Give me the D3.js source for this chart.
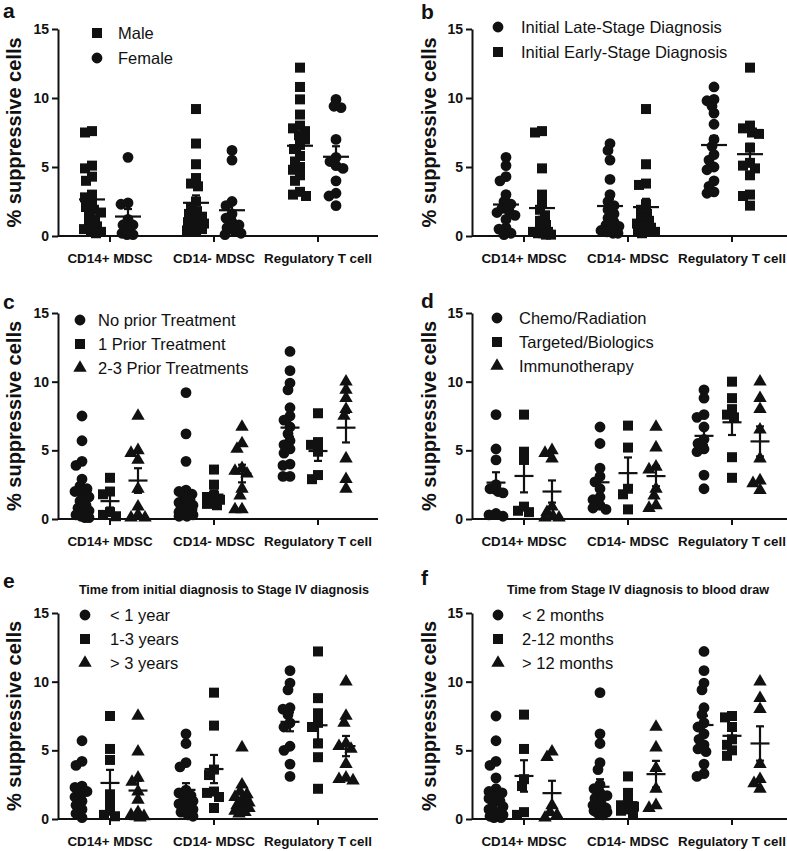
<!DOCTYPE html>
<html>
<head>
<meta charset="utf-8">
<script src="https://cdn.jsdelivr.net/npm/d3@7"></script>
<style>
  body { margin: 0; background: #fff; }
  svg { display: block; font-family: "Liberation Sans", Arial, sans-serif; }
</style>
</head>
<body>
<div id="chart"></div>
<script>
// categories and axis ticks
var categories = ["CD14+ MDSC", "CD14- MDSC", "Regulatory T cell"];
var yTicks = [0, 5, 10, 15];

// each series: values for [CD14+ MDSC, CD14- MDSC, Regulatory T cell]
// panel a
var male = [
  [7.6, 7.5, 5.1, 4.9, 4.3, 4.0, 3.0, 2.8, 2.4, 2.1, 1.9, 1.7, 1.5, 1.2, 0.9, 0.7, 0.5, 0.4, 0.3, 0.2],
  [9.2, 6.7, 5.2, 4.2, 3.8, 3.6, 2.5, 2.1, 1.8, 1.6, 1.4, 1.2, 1.0, 0.9, 0.8, 0.6, 0.5, 0.4, 0.3, 0.3],
  [12.2, 10.8, 9.9, 8.8, 8.0, 7.8, 7.6, 7.3, 7.0, 6.6, 6.3, 5.8, 5.4, 5.0, 4.8, 4.4, 4.0, 3.2, 3.0, 2.9]
];
var female = [
  [5.7, 2.4, 2.3, 1.2, 0.8, 0.8, 0.5, 0.2, 0.1, 0.1],
  [6.2, 5.5, 2.5, 2.2, 1.6, 1.3, 1.0, 0.8, 0.6, 0.4, 0.2, 0.1],
  [9.9, 9.4, 9.3, 7.0, 5.7, 5.4, 5.1, 4.9, 4.0, 3.1, 2.9, 2.2]
];
// panel b
var lateStage = [
  [5.7, 5.1, 4.3, 4.0, 3.0, 2.5, 2.3, 2.0, 1.8, 1.7, 1.5, 1.2, 0.6, 0.5, 0.2, 0.1],
  [6.7, 6.2, 5.5, 4.1, 3.0, 2.5, 2.2, 1.9, 1.6, 1.3, 1.0, 0.8, 0.7, 0.5, 0.4, 0.3, 0.2, 0.2],
  [10.8, 9.9, 9.8, 9.4, 8.9, 8.1, 7.0, 6.5, 5.9, 5.5, 5.0, 4.8, 4.0, 3.6, 3.2, 3.1]
];
var earlyStage = [
  [7.6, 7.5, 4.9, 3.0, 2.4, 1.9, 1.5, 1.1, 0.8, 0.5, 0.3, 0.3, 0.2, 0.2, 0.1, 0.1],
  [9.2, 5.2, 3.8, 3.7, 2.3, 1.9, 1.6, 1.3, 1.1, 0.9, 0.7, 0.6, 0.4, 0.3, 0.3, 0.2],
  [12.2, 8.0, 7.8, 7.5, 7.4, 6.4, 5.3, 5.1, 4.9, 4.4, 3.0, 2.9, 2.2]
];
// panel c
var noPrior = [
  [7.5, 5.7, 4.2, 3.9, 2.9, 2.4, 2.2, 2.0, 1.8, 1.6, 1.3, 1.0, 0.8, 0.6, 0.5, 0.3, 0.3, 0.2, 0.1, 0.1],
  [9.2, 6.2, 4.2, 2.1, 2.0, 1.8, 1.6, 1.4, 1.2, 1.1, 1.0, 0.9, 0.8, 0.7, 0.6, 0.5, 0.4, 0.3, 0.3, 0.2, 0.2],
  [12.2, 10.8, 9.9, 9.4, 8.1, 7.5, 7.2, 6.7, 6.2, 5.7, 5.4, 5.1, 4.8, 4.0, 3.9, 3.1, 3.1]
];
var onePrior = [
  [3.0, 2.0, 1.8, 0.5, 0.3, 0.2],
  [3.6, 2.5, 1.7, 1.6, 1.4, 1.3, 1.1, 1.0],
  [7.7, 5.6, 5.4, 4.9, 3.2, 2.9]
];
var twoThreePrior = [
  [7.5, 5.0, 4.8, 4.3, 2.2, 0.9, 0.3, 0.1, 0.1],
  [6.7, 5.5, 5.1, 3.7, 3.5, 3.3, 2.2, 1.7, 0.7, 0.7],
  [10.0, 9.4, 8.8, 8.0, 7.5, 4.4, 2.9, 2.2]
];
// panel d
var chemo = [
  [7.6, 5.1, 4.3, 2.5, 2.2, 2.0, 1.9, 0.4, 0.3, 0.2],
  [6.7, 5.5, 3.7, 3.1, 2.7, 2.2, 1.6, 1.4, 1.0, 0.8, 0.7],
  [9.4, 8.8, 7.6, 7.4, 6.7, 5.8, 5.5, 5.1, 4.9, 3.2, 2.2]
];
var targeted = [
  [7.6, 4.9, 4.3, 0.9, 0.6, 0.5],
  [6.8, 5.2, 2.2, 1.8, 0.7],
  [10.0, 8.8, 8.0, 7.6, 7.4, 4.5, 3.0]
];
var immuno = [
  [5.0, 4.8, 4.4, 0.9, 0.5, 0.2, 0.1, 0.1],
  [6.7, 5.2, 3.8, 3.6, 2.2, 1.7, 1.0, 0.8],
  [10.0, 8.8, 8.0, 6.5, 4.4, 2.8, 2.6, 2.1]
];
// panel e
var underOneYear = [
  [5.7, 4.2, 3.9, 2.4, 2.3, 2.0, 1.9, 1.6, 1.3, 1.0, 0.7, 0.4, 0.1],
  [6.2, 5.5, 4.1, 3.8, 2.1, 1.9, 1.7, 1.5, 1.3, 1.1, 0.9, 0.7, 0.5, 0.3, 0.2],
  [10.8, 9.9, 9.4, 8.1, 8.0, 7.6, 7.0, 6.7, 5.3, 5.0, 4.0, 3.1]
];
var oneToThreeYears = [
  [7.5, 5.1, 4.3, 1.8, 1.2, 0.6, 0.3, 0.2],
  [9.2, 6.8, 3.6, 3.2, 2.0, 1.9, 1.6, 0.8],
  [12.2, 8.8, 7.7, 7.0, 6.7, 5.5, 4.5, 2.2]
];
var overThreeYears = [
  [7.5, 4.9, 3.0, 2.7, 2.0, 1.4, 0.5, 0.3, 0.2, 0.2, 0.1],
  [5.2, 2.5, 2.0, 1.8, 1.6, 1.4, 1.2, 1.0, 0.9, 0.8, 0.7, 0.6, 0.5, 0.4],
  [10.0, 7.5, 7.0, 5.5, 5.3, 5.1, 4.0, 3.0, 2.9, 2.8]
];
// panel f
var underTwoMonths = [
  [7.5, 5.7, 4.2, 3.9, 3.0, 2.2, 2.0, 1.9, 1.7, 1.5, 1.3, 1.1, 0.9, 0.7, 0.5, 0.3, 0.2, 0.2, 0.1, 0.1],
  [9.2, 6.2, 5.5, 4.1, 3.6, 2.5, 2.2, 1.9, 1.7, 1.5, 1.2, 1.0, 0.8, 0.8, 0.6, 0.6, 0.5, 0.4, 0.3],
  [12.2, 10.8, 9.9, 9.4, 8.1, 7.6, 7.0, 6.7, 6.2, 5.8, 5.4, 5.1, 4.9, 4.0, 3.3, 3.1]
];
var twoToTwelveMonths = [
  [7.6, 5.1, 2.9, 2.4, 0.5, 0.3],
  [3.1, 1.9, 1.2, 1.0, 0.9, 0.7, 0.6, 0.4],
  [7.5, 7.4, 6.7, 5.8, 5.4, 5.0, 4.6]
];
var overTwelveMonths = [
  [4.9, 4.5, 1.0, 0.5, 0.3, 0.1],
  [6.7, 5.2, 3.7, 2.2, 1.0, 0.8],
  [10.0, 8.8, 8.0, 4.0, 2.9, 2.6, 2.2]
];

// layout
var colX = [58, 472];          // y-axis position per column
var letterX = [3, 421];
var titleX = [20.5, 435.5];
var rowTop = [29, 313, 613];   // y of 15
var rowBottom = [236, 519, 819]; // y of 0
var axisLen = 320;

var panels = [
  { letter: "a", col: 0, row: 0, letterY: 18,
    legend: { x: 97, y: 33, dy: 25, tx: 118 },
    series: [{ name: "Male", shape: "square", values: male },
             { name: "Female", shape: "circle", values: female }] },
  { letter: "b", col: 1, row: 0, letterY: 19,
    legend: { x: 498, y: 27, dy: 25, tx: 521 },
    series: [{ name: "Initial Late-Stage Diagnosis", shape: "circle", values: lateStage },
             { name: "Initial Early-Stage Diagnosis", shape: "square", values: earlyStage }] },
  { letter: "c", col: 0, row: 1, letterY: 309,
    legend: { x: 80, y: 320, dy: 24, tx: 98 },
    series: [{ name: "No prior Treatment", shape: "circle", values: noPrior },
             { name: "1 Prior Treatment", shape: "square", values: onePrior },
             { name: "2-3 Prior Treatments", shape: "triangle", values: twoThreePrior }] },
  { letter: "d", col: 1, row: 1, letterY: 308,
    legend: { x: 497, y: 318, dy: 24, tx: 519 },
    series: [{ name: "Chemo/Radiation", shape: "circle", values: chemo },
             { name: "Targeted/Biologics", shape: "square", values: targeted },
             { name: "Immunotherapy", shape: "triangle", values: immuno }] },
  { letter: "e", col: 0, row: 2, letterY: 588,
    title: "Time from initial diagnosis to Stage IV diagnosis",
    legend: { x: 85, y: 615, dy: 24, tx: 110 },
    series: [{ name: "< 1 year", shape: "circle", values: underOneYear },
             { name: "1-3 years", shape: "square", values: oneToThreeYears },
             { name: "> 3 years", shape: "triangle", values: overThreeYears }] },
  { letter: "f", col: 1, row: 2, letterY: 585,
    title: "Time from Stage IV diagnosis to blood draw",
    legend: { x: 498, y: 615, dy: 24, tx: 522 },
    series: [{ name: "< 2 months", shape: "circle", values: underTwoMonths },
             { name: "2-12 months", shape: "square", values: twoToTwelveMonths },
             { name: "> 12 months", shape: "triangle", values: overTwelveMonths }] }
];

var ink = "#111";
var shapes = {
  square: d3.symbol().type(d3.symbolSquare).size(100)(),
  circle: d3.symbol().type(d3.symbolCircle).size(92)(),
  triangle: d3.symbol().type(d3.symbolTriangle).size(78)()
};

var svg = d3.select("#chart").append("svg")
  .attr("width", 787)
  .attr("height", 851);

// spread overlapping points a little sideways, within maxOff of the centre
function swarm(values, cx, y, maxOff) {
  var placed = [];
  var minDist = 7;
  values.slice().sort(d3.descending).forEach(function (v) {
    var py = y(v);
    var best = cx, bestD = -1;
    for (var k = 0; k <= 2 * maxOff; k++) {
      var off = k === 0 ? 0 : (k % 2 ? -1 : 1) * Math.ceil(k / 2);
      var px = cx + off;
      var dmin = placed.length ? d3.min(placed, function (q) {
        return Math.hypot(q.x - px, q.y - py);
      }) : Infinity;
      if (dmin >= minDist) { best = px; break; }
      if (dmin > bestD) { bestD = dmin; best = px; }
    }
    placed.push({ x: best, y: py });
  });
  return placed;
}

panels.forEach(function (p) {
  var axisX = colX[p.col];
  var y = d3.scaleLinear().domain([0, 15]).range([rowBottom[p.row], rowTop[p.row]]);
  var x = d3.scaleBand().domain(categories).range([axisX, axisX + 312]);
  var n = p.series.length;
  var offsets = n === 2 ? [-18, 18] : [-28, 0, 28];
  var meanHalf = n === 2 ? 13 : 9.5;
  var maxOff = n === 2 ? 9 : 7;
  var g = svg.append("g");

  // y axis
  var ya = g.append("g")
    .attr("transform", "translate(" + axisX + ",0)")
    .call(d3.axisLeft(y).tickValues(yTicks).tickSize(6).tickSizeOuter(0).tickPadding(3));
  ya.selectAll("text")
    .style("font-size", "14px").style("font-weight", "bold").attr("fill", ink);

  // x axis
  var xa = g.append("g")
    .attr("transform", "translate(0," + y(0) + ")")
    .call(d3.axisBottom(x).tickSize(6).tickSizeOuter(0).tickPadding(11));
  xa.select(".domain").attr("d", "M" + axisX + ",0H" + (axisX + axisLen));
  xa.selectAll("text")
    .style("font-size", "13.4px").style("font-weight", "bold").attr("fill", ink);

  g.selectAll(".domain, .tick line").attr("stroke", ink).attr("stroke-width", 2);

  // y title
  g.append("text")
    .attr("transform", "translate(" + titleX[p.col] + "," + (y(0) + y(15)) / 2 + ") rotate(-90)")
    .attr("text-anchor", "middle")
    .style("font-size", "20px").style("font-weight", "bold")
    .attr("fill", ink)
    .text("% suppressive cells");

  // panel letter
  g.append("text")
    .attr("x", letterX[p.col]).attr("y", p.letterY)
    .style("font-size", "21px").style("font-weight", "bold")
    .attr("fill", ink)
    .text(p.letter);

  if (p.title) {
    g.append("text")
      .attr("x", axisX + 166).attr("y", rowTop[p.row] - 19)
      .attr("text-anchor", "middle")
      .style("font-size", "12.6px").style("font-weight", "bold")
      .attr("fill", ink)
      .text(p.title);
  }

  // legend
  p.series.forEach(function (s, i) {
    var ly = p.legend.y + i * p.legend.dy;
    g.append("path")
      .attr("d", shapes[s.shape])
      .attr("transform", "translate(" + p.legend.x + "," + ly + ")")
      .attr("fill", ink);
    g.append("text")
      .attr("x", p.legend.tx).attr("y", ly + 6)
      .style("font-size", "16.5px")
      .attr("fill", ink)
      .text(s.name);
  });

  // points and mean +/- SEM
  p.series.forEach(function (s, i) {
    categories.forEach(function (c, ci) {
      var vals = s.values[ci];
      var cx = x(c) + x.bandwidth() / 2 + offsets[i];
      g.append("g").selectAll("path")
        .data(swarm(vals, cx, y, maxOff))
        .join("path")
        .attr("d", shapes[s.shape])
        .attr("transform", function (d) { return "translate(" + d.x + "," + d.y + ")"; })
        .attr("fill", ink);

      var m = d3.mean(vals);
      var sem = d3.deviation(vals) / Math.sqrt(vals.length);
      var eb = g.append("g").attr("stroke", ink).attr("stroke-width", 2.2);
      eb.append("line")
        .attr("x1", cx - meanHalf).attr("x2", cx + meanHalf)
        .attr("y1", y(m)).attr("y2", y(m));
      eb.append("line")
        .attr("x1", cx).attr("x2", cx)
        .attr("y1", y(m - sem)).attr("y2", y(m + sem));
      [m - sem, m + sem].forEach(function (v) {
        eb.append("line")
          .attr("x1", cx - 4).attr("x2", cx + 4)
          .attr("y1", y(v)).attr("y2", y(v));
      });
    });
  });
});
</script>
</body>
</html>
